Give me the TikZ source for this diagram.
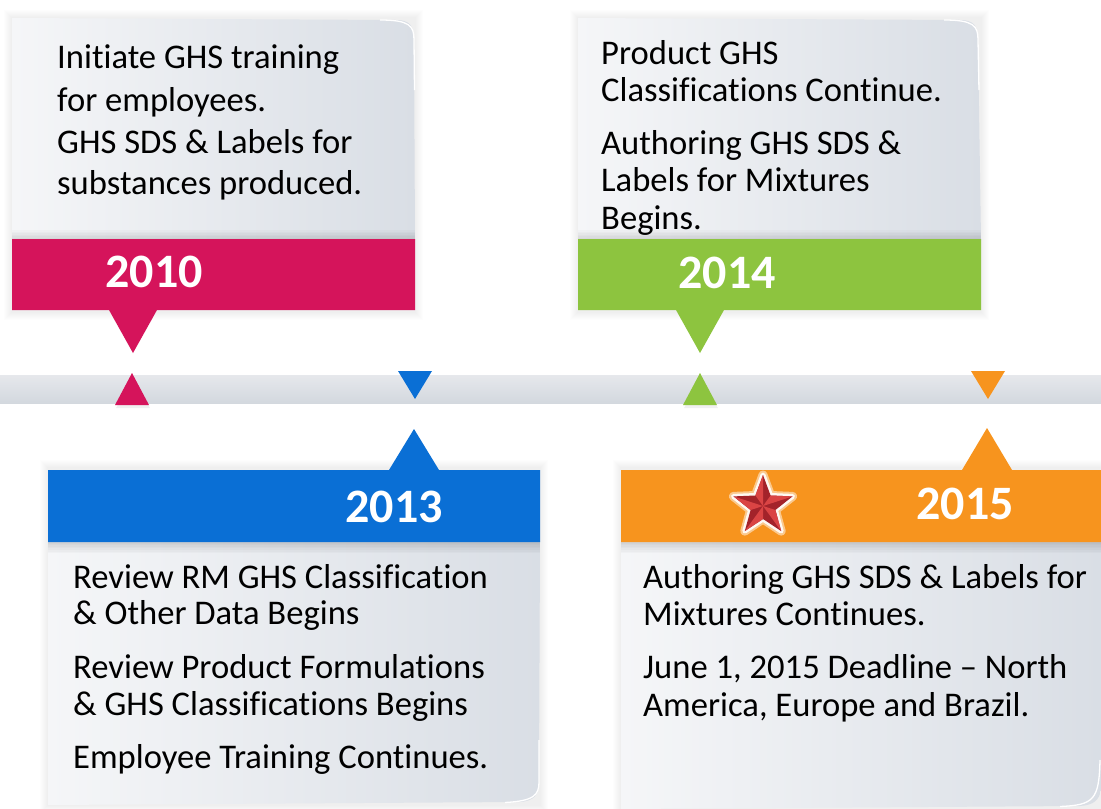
\documentclass[tikz,border=0pt]{standalone}
\usepackage{fontspec}
\setmainfont{Carlito}[Ligatures={TeX,NoCommon}]
\usetikzlibrary{calc}
\definecolor{cpink}{HTML}{D5145B}
\definecolor{cblue}{HTML}{0A6FD5}
\definecolor{cgreen}{HTML}{8DC43F}
\definecolor{corange}{HTML}{F7941E}
\definecolor{cardL}{HTML}{F5F6F8}
\definecolor{cardR}{HTML}{D9DEE5}
\definecolor{barT}{HTML}{E6E8EC}
\definecolor{barB}{HTML}{D3D8DE}
\definecolor{starL}{HTML}{DA4444}
\definecolor{starD}{HTML}{A3232A}
\tikzset{
  txt/.style={font=\fontsize{34.6}{40}\selectfont, inner sep=0pt, anchor=base west, text=black},
  year/.style={font=\bfseries\fontsize{48}{52}\selectfont, inner sep=0pt, anchor=base, text=white},
  card/.style={left color=cardL, right color=cardR},
  curl/.style={white, line width=1.3pt},
}
\begin{document}
\begin{tikzpicture}[x=1pt,y=-1pt]
\useasboundingbox (0,0) rectangle (1101,809);
\fill[white] (0,0) rectangle (1101,809);

% soft shadows around cards
\foreach \i in {1,...,8}{
  \fill[black,opacity=0.008] (12-\i,18-\i) rectangle (415+\i,312+\i);
  \fill[black,opacity=0.008] (578-\i,18-\i) rectangle (981+\i,312+\i);
  \fill[black,opacity=0.008] (48-\i,468-\i) rectangle (540+\i,805+\i);
  \fill[black,opacity=0.008] (621-\i,468-\i) rectangle (1101,809);
}

% ---------- top-left card (2010)
\shade[card] (12,18) -- (396,20) .. controls (410,20) and (414,26) .. (414,40) -- (415,240) -- (12,240) -- cycle;
\draw[curl] (380,20) .. controls (410,20) and (414,26) .. (414,40) -- (414.5,90);
\foreach \i in {1,...,6}{\fill[black,opacity=0.018] (12,239-\i*1.5) rectangle (415,239);}
\fill[cpink] (12,239) -- (415,239) -- (415,310) -- (157,310) -- (133,353) -- (109,310) -- (12,310) -- cycle;

% ---------- top-right card (2014)
\shade[card] (578,18) -- (960,20) .. controls (974,20) and (978,26) .. (978,40) -- (981,240) -- (578,240) -- cycle;
\draw[curl] (944,20) .. controls (974,20) and (978,26) .. (978,40) -- (979,90);
\foreach \i in {1,...,6}{\fill[black,opacity=0.018] (578,239-\i*1.5) rectangle (981,239);}
\fill[cgreen] (578,239) -- (981,239) -- (981,310) -- (724,310) -- (700,353) -- (676,310) -- (578,310) -- cycle;

% ---------- timeline bar
\shade[top color=barT, bottom color=barB] (0,375) rectangle (1101,403);
\fill[black,opacity=0.06] (116,408) -- (150,408) -- (133,380) -- cycle;
\fill[black,opacity=0.06] (684,408) -- (718,408) -- (701,380) -- cycle;
\fill[cpink] (115,405) -- (149,405) -- (132,373) -- cycle;
\fill[cblue] (398,371) -- (432,371) -- (415,399) -- cycle;
\fill[cgreen] (683,405) -- (717,405) -- (700,373) -- cycle;
\fill[corange] (971,371) -- (1005,371) -- (988,399) -- cycle;

% ---------- bottom-left card (2013)
\shade[card] (48,541) -- (540,541) -- (539,782) .. controls (539,795) and (534,801) .. (520,802) -- (48,805) -- cycle;
\draw[curl] (539,740) -- (539,782) .. controls (539,795) and (534,801) .. (505,802.5);
\foreach \i in {1,...,7}{\fill[black,opacity=0.02] (48,542) rectangle (540,542+\i*1.6);}
\fill[cblue] (48,470) -- (389,470) -- (414,429) -- (439,470) -- (540,470) -- (540,542) -- (48,542) -- cycle;

% ---------- bottom-right card (2015)
\shade[card] (621,541) -- (1101,541) -- (1101,790) .. controls (1099,800) and (1094,805) .. (1080,806) -- (621,809) -- cycle;
\draw[curl] (1100,760) .. controls (1099,800) and (1094,805) .. (1060,806.5);
\foreach \i in {1,...,7}{\fill[black,opacity=0.02] (621,542) rectangle (1101,542+\i*1.6);}
\fill[corange] (621,470) -- (962,470) -- (987,428) -- (1012,470) -- (1101,470) -- (1101,542) -- (621,542) -- cycle;

% ---------- star
\def\starpath{(763,475) -- (770.6,495.5) -- (792.5,496.4) -- (775.4,510.0) -- (781.2,531.1) -- (763,519) -- (744.8,531.1) -- (750.6,510.0) -- (733.5,496.4) -- (755.4,495.5) -- cycle}
\draw[white, line width=9pt, line join=round, opacity=0.5] \starpath;
\draw[white, line width=5pt, line join=round, opacity=0.9] \starpath;
\fill[starD] \starpath;
\coordinate (sc) at (763,506);
\fill[starL] (sc) -- (763,475) -- (755.4,495.5) -- cycle;
\fill[starL] (sc) -- (792.5,496.4) -- (770.6,495.5) -- cycle;
\fill[starL] (sc) -- (781.2,531.1) -- (775.4,510.0) -- cycle;
\fill[starL] (sc) -- (744.8,531.1) -- (763,519) -- cycle;
\fill[starL] (sc) -- (733.5,496.4) -- (750.6,510.0) -- cycle;

% ---------- year labels
\node[year] (y2010) at (154,287) {2010};
\node[year] (y2014) at (727,288) {2014};
\node[year] (y2013) at (394,522) {2013};
\node[year] (y2015) at (965,519) {2015};

% ---------- texts
\node[txt] (a1) at (57,68)  {Initiate GHS training};
\node[txt] (a2) at (57,111) {for employees.};
\node[txt] (a3) at (57,153) {GHS SDS \& Labels for};
\node[txt] (a4) at (57,194) {substances produced.};

\node[txt] (b1) at (601,64)  {Product GHS};
\node[txt] (b2) at (601,101) {Classifications Continue.};
\node[txt] (b3) at (601,154) {Authoring GHS SDS \&};
\node[txt] (b4) at (601,191) {Labels for Mixtures};
\node[txt] (b5) at (601,229) {Begins.};

\node[txt] (c1) at (73,588) {Review RM GHS Classification};
\node[txt] (c2) at (73,624) {\& Other Data Begins};
\node[txt] (c3) at (73,678) {Review Product Formulations};
\node[txt] (c4) at (73,715) {\& GHS Classifications Begins};
\node[txt] (c5) at (73,768) {Employee Training Continues.};

\node[txt] (d1) at (643,588) {Authoring GHS SDS \& Labels for};
\node[txt] (d2) at (643,625) {Mixtures Continues.};
\node[txt] (d3) at (643,678) {June 1, 2015 Deadline – North};
\node[txt] (d4) at (643,716) {America, Europe and Brazil.};
\end{tikzpicture}
\end{document}
